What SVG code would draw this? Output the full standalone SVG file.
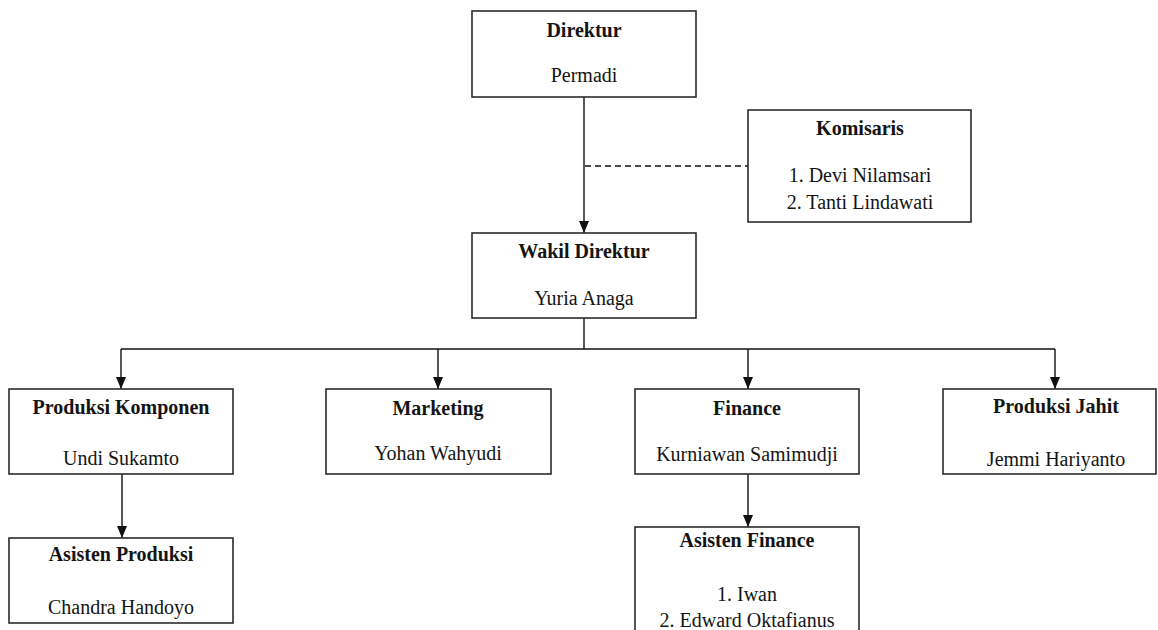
<svg xmlns="http://www.w3.org/2000/svg" width="1158" height="630" viewBox="0 0 1158 630">
  <style>
    .box { fill: #ffffff; stroke: #2b2b2b; stroke-width: 1.6; }
    .t { font-family: "Liberation Serif", "Times New Roman", serif; font-size: 20px; fill: #141414; text-anchor: middle; }
    .b { font-weight: bold; }
    .c { fill: none; stroke: #111; stroke-width: 1.4; }
    .d { fill: none; stroke: #111; stroke-width: 1.3; stroke-dasharray: 6 4; }
  </style>
  <defs>
    <marker id="arr" markerWidth="12" markerHeight="12" refX="12" refY="6" orient="auto" markerUnits="userSpaceOnUse">
      <path d="M0,1 L12,6 L0,11 z" fill="#111"/>
    </marker>
  </defs>
  <rect width="1158" height="630" fill="#ffffff"/>

  <g id="connectors">
    <line class="c" x1="584" y1="97" x2="584" y2="233" marker-end="url(#arr)"/>
    <line class="d" x1="585" y1="166" x2="748" y2="166"/>
    <polyline class="c" points="584,318 584,349"/>
    <line class="c" x1="121" y1="349" x2="1055" y2="349"/>
    <line class="c" x1="121" y1="349" x2="121" y2="389" marker-end="url(#arr)"/>
    <line class="c" x1="438" y1="349" x2="438" y2="389" marker-end="url(#arr)"/>
    <line class="c" x1="748" y1="349" x2="748" y2="389" marker-end="url(#arr)"/>
    <line class="c" x1="1055" y1="349" x2="1055" y2="389" marker-end="url(#arr)"/>
    <line class="c" x1="122" y1="474" x2="122" y2="538" marker-end="url(#arr)"/>
    <line class="c" x1="748" y1="474" x2="748" y2="527" marker-end="url(#arr)"/>
  </g>

  <g id="direktur">
    <rect class="box" x="472" y="11" width="224" height="86"/>
    <text class="t b" x="584" y="37">Direktur</text>
    <text class="t" x="584" y="82">Permadi</text>
  </g>

  <g id="komisaris">
    <rect class="box" x="748" y="110" width="223" height="112"/>
    <text class="t b" x="860" y="135">Komisaris</text>
    <text class="t" x="860" y="182">1. Devi Nilamsari</text>
    <text class="t" x="860" y="209">2. Tanti Lindawati</text>
  </g>

  <g id="wakil-direktur">
    <rect class="box" x="472" y="233" width="224" height="85"/>
    <text class="t b" x="584" y="258">Wakil Direktur</text>
    <text class="t" x="584" y="305">Yuria Anaga</text>
  </g>

  <g id="produksi-komponen">
    <rect class="box" x="9" y="389" width="224" height="85"/>
    <text class="t b" x="121" y="414">Produksi Komponen</text>
    <text class="t" x="121" y="465">Undi Sukamto</text>
  </g>

  <g id="marketing">
    <rect class="box" x="326" y="389" width="225" height="85"/>
    <text class="t b" x="438" y="415">Marketing</text>
    <text class="t" x="438" y="460">Yohan Wahyudi</text>
  </g>

  <g id="finance">
    <rect class="box" x="635" y="389" width="224" height="85"/>
    <text class="t b" x="747" y="415">Finance</text>
    <text class="t" x="747" y="461">Kurniawan Samimudji</text>
  </g>

  <g id="produksi-jahit">
    <rect class="box" x="943" y="389" width="213" height="85"/>
    <text class="t b" x="1056" y="413">Produksi Jahit</text>
    <text class="t" x="1056" y="466">Jemmi Hariyanto</text>
  </g>

  <g id="asisten-produksi">
    <rect class="box" x="9" y="538" width="224" height="85"/>
    <text class="t b" x="121" y="561">Asisten Produksi</text>
    <text class="t" x="121" y="614">Chandra Handoyo</text>
  </g>

  <g id="asisten-finance">
    <rect class="box" x="635" y="527" width="224" height="110"/>
    <text class="t b" x="747" y="547">Asisten Finance</text>
    <text class="t" x="747" y="601">1. Iwan</text>
    <text class="t" x="747" y="627">2. Edward Oktafianus</text>
  </g>
</svg>
